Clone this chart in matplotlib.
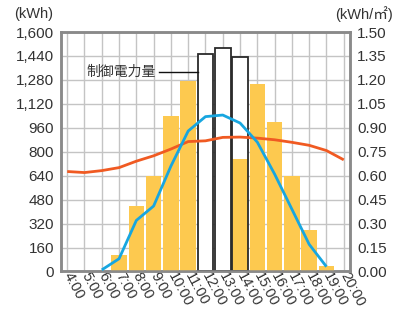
import matplotlib
matplotlib.use("Agg")
import matplotlib.pyplot as plt
from matplotlib.ticker import FuncFormatter

# ---- data ----
hour_ticks = list(range(4, 21))
hour_labels = [f"{h}:00" for h in hour_ticks]

gen_hours = [7, 8, 9, 10, 11, 14, 15, 16, 17, 18, 19]
gen_kwh = [110, 440, 640, 1040, 1270, 750, 1250, 1000, 640, 280, 40]

ctrl_hours = [12, 13, 14]
ctrl_kwh = [1450, 1490, 1430]

demand_hours = [4, 5, 6, 7, 8, 9, 10, 11, 12, 13, 14, 15, 16, 17, 18, 19, 20]
demand_kwh = [668, 661, 674, 694, 737, 773, 818, 868, 873, 896, 898, 891, 880, 863, 843, 808, 746]

rad_hours = [6, 7, 8, 9, 10, 11, 12, 13, 14, 15, 16, 17, 18, 19]
rad_kwh_m2 = [0.01, 0.08, 0.32, 0.41, 0.66, 0.88, 0.97, 0.98, 0.93, 0.81, 0.61, 0.39, 0.17, 0.03]

left_ticks = list(range(0, 1601, 160))
right_ticks = [i * 0.15 for i in range(11)]

ctrl_label = "制御電力量"

# ---- style ----
YELLOW = "#fdc94f"
ORANGE = "#f05a22"
BLUE = "#17a6e0"
GRID = "#c4c4c4"
SPINE = "#8a8a8a"
TXT = "#333333"

plt.rcParams['font.family'] = ['Liberation Sans', 'Noto Sans CJK JP', 'DejaVu Sans']

fig = plt.figure(figsize=(3.95, 3.09), dpi=100)
ax = fig.add_axes([0.1544, 0.1214, 0.7316, 0.775])
ax2 = ax.twinx()

ax.set_xlim(3.64, 20.36)
ax.set_ylim(0, 1600)
ax2.set_ylim(0, 1.5)

ax.set_xticks(hour_ticks)
ax.set_yticks(left_ticks)
ax2.set_yticks(right_ticks)
ax.grid(True, color=GRID, linewidth=1.0, zorder=0)
ax.set_axisbelow(True)

W = 0.9
ax.bar(ctrl_hours, ctrl_kwh, width=W, color="white", edgecolor="none", zorder=2)
ax.bar(gen_hours, gen_kwh, width=W, color=YELLOW, edgecolor="none", zorder=3)
ax.bar(ctrl_hours, ctrl_kwh, width=W, fill=False, edgecolor="#2a2a2a", linewidth=1.3, zorder=4)

ax.plot(demand_hours, demand_kwh, color=ORANGE, linewidth=2.0, zorder=5, solid_capstyle='butt')

ax2.plot(rad_hours, rad_kwh_m2, color=BLUE, linewidth=2.0, zorder=5, solid_capstyle='butt')

# annotation
ax.text(9.15, 1335, ctrl_label, ha="right", va="center", fontsize=10,
        family=['Noto Sans CJK JP', 'DejaVu Sans'], color=TXT, zorder=6)
ax.plot([9.3, 12 - W / 2], [1335, 1335], color="#111111", linewidth=1.0, zorder=6)

# ticks
ax.yaxis.set_major_formatter(FuncFormatter(lambda v, p: f"{int(round(v)):,}"))
ax2.yaxis.set_major_formatter(FuncFormatter(lambda v, p: f"{v:.2f}"))
ax.set_xticklabels(hour_labels, rotation=-62, ha="left", va="center",
                   rotation_mode="anchor")
ax.tick_params(axis="both", length=0, labelsize=11, colors=TXT)
ax.tick_params(axis="x", pad=1, labelsize=10.5)
ax.tick_params(axis="y", pad=5)
ax2.tick_params(axis="y", length=0, labelsize=11, colors=TXT, pad=5)

for a in (ax, ax2):
    for s in a.spines.values():
        s.set_color(SPINE)
        s.set_linewidth(1.8)

# unit labels
fig.text(14 / 395, 1 - 14 / 309, "(kWh)", ha="left", va="center", fontsize=10.5, color=TXT)
fig.text(393 / 395, 1 - 14 / 309, "(kWh/㎡)", ha="right", va="center", fontsize=10.5,
         color=TXT, family=['Liberation Sans', 'Noto Sans CJK JP', 'DejaVu Sans'])

fig.savefig("out.png", dpi=100)
